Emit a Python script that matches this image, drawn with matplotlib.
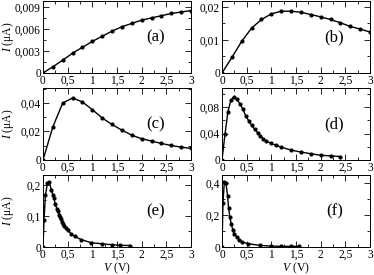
import matplotlib
matplotlib.use("Agg")
import matplotlib.pyplot as plt
from matplotlib.ticker import MultipleLocator, FuncFormatter, AutoMinorLocator

plt.rcParams['font.family'] = ['Liberation Serif', 'DejaVu Serif']
plt.rcParams['mathtext.fontset'] = 'custom'
plt.rcParams['mathtext.it'] = 'Liberation Serif:italic'
plt.rcParams['mathtext.rm'] = 'Liberation Serif'

# Panel data
xa = [0, 0.2, 0.4, 0.6, 0.8, 1.0, 1.2, 1.4, 1.6, 1.8, 2.0, 2.2, 2.4, 2.6, 2.8, 3.0]
ya = [0, 0.00085, 0.00175, 0.0027, 0.0035, 0.0043, 0.0050, 0.0057, 0.0063, 0.00675,
      0.0072, 0.0075, 0.0078, 0.0081, 0.0083, 0.0085]

xb = [0, 0.2, 0.4, 0.6, 0.8, 1.0, 1.2, 1.4, 1.6, 1.8, 2.0, 2.2, 2.4, 2.6, 2.8, 3.0]
yb = [0, 0.0047, 0.0096, 0.0136, 0.0162, 0.0179, 0.0187, 0.0187, 0.0184, 0.0177,
      0.0170, 0.0162, 0.0152, 0.0141, 0.0133, 0.0124]

xc = [0, 0.2, 0.4, 0.6, 0.8, 1.0, 1.2, 1.4, 1.6, 1.8, 2.0, 2.2, 2.4, 2.6, 2.8, 3.0]
yc = [0, 0.0233, 0.0400, 0.0435, 0.0407, 0.0353, 0.0295, 0.0249, 0.0209, 0.0174,
      0.0149, 0.0133, 0.0116, 0.0102, 0.0090, 0.0082]

xd = [0, 0.06, 0.12, 0.18, 0.24, 0.30, 0.36, 0.42, 0.48, 0.54, 0.60, 0.66, 0.72,
      0.78, 0.84, 0.90, 1.0, 1.1, 1.2, 1.4, 1.6, 1.8, 2.0, 2.2, 2.4]
yd = [0, 0.0387, 0.0730, 0.0905, 0.0955, 0.0920, 0.0855, 0.0775, 0.0670, 0.0595,
      0.0525, 0.0465, 0.0415, 0.0365, 0.0320, 0.0285, 0.0250, 0.0220, 0.0195, 0.0150,
      0.0120, 0.0095, 0.0072, 0.0062, 0.0052]

xe = [0, 0.02, 0.05, 0.09, 0.13, 0.17, 0.20, 0.22, 0.25, 0.28, 0.30, 0.33, 0.35,
      0.37, 0.39, 0.41, 0.43, 0.46, 0.50, 0.57, 0.65, 0.77, 0.98, 1.19, 1.39, 1.57, 1.77]
ye = [0, 0.087, 0.168, 0.205, 0.208, 0.184, 0.168, 0.158, 0.137, 0.124, 0.116, 0.104,
      0.097, 0.090, 0.081, 0.075, 0.068, 0.062, 0.055, 0.042, 0.034, 0.024, 0.0137,
      0.0105, 0.0074, 0.0053, 0.0048]

xf = [0, 0.02, 0.047, 0.08, 0.113, 0.133, 0.16, 0.187, 0.22, 0.25, 0.30, 0.35,
      0.41, 0.53, 0.77, 0.99, 1.19, 1.39, 1.57]
yf = [0, 0.277, 0.406, 0.400, 0.318, 0.246, 0.185, 0.144, 0.107, 0.082, 0.062,
      0.045, 0.031, 0.0205, 0.010, 0.006, 0.004, 0.004, 0.004]

labels = ['(a)', '(b)', '(c)', '(d)', '(e)', '(f)']
xs = [xa, xb, xc, xd, xe, xf]
ys = [ya, yb, yc, yd, ye, yf]
ylims = [0.0098, 0.0218, 0.0505, 0.109, 0.232, 0.45]
ymajor = [0.003, 0.01, 0.02, 0.04, 0.1, 0.2]

W, H = 374, 275
fig = plt.figure(figsize=(W / 100, H / 100), dpi=100)

col_left = [43, 222]
col_w = 148
row_top = [1, 88, 175]
row_h = 72

def fmt(v, pos):
    if abs(v) < 1e-12:
        return '0'
    s = '%g' % round(v, 6)
    return s.replace('.', ',')

for i in range(6):
    r, c = divmod(i, 2)
    left = col_left[c] / W
    bottom = 1 - (row_top[r] + row_h) / H
    ax = fig.add_axes([left, bottom, col_w / W, row_h / H])
    ax.plot(xs[i], ys[i], color='black', lw=1.0, marker='o', ms=2.0)
    ax.set_xlim(0, 3)
    ax.set_ylim(0, ylims[i])
    ax.xaxis.set_major_locator(MultipleLocator(0.5))
    ax.xaxis.set_minor_locator(AutoMinorLocator(2))
    ax.yaxis.set_major_locator(MultipleLocator(ymajor[i]))
    ax.yaxis.set_minor_locator(AutoMinorLocator(2))
    ax.xaxis.set_major_formatter(FuncFormatter(fmt))
    ax.yaxis.set_major_formatter(FuncFormatter(fmt))
    ax.tick_params(which='both', direction='in', top=True, right=True,
                   labelsize=8.3, pad=1.5, width=0.6)
    ax.tick_params(which='major', length=4)
    ax.tick_params(which='minor', length=2)
    for sp in ax.spines.values():
        sp.set_linewidth(0.7)
    ax.text(0.76, 0.5, labels[i], transform=ax.transAxes, fontsize=12,
            ha='center', va='center')
    if c == 0:
        ax.set_ylabel(r'$I$ ($\mathrm{\mu}$A)', fontsize=8.3)
        ax.yaxis.set_label_coords(-27 / col_w, 0.5)
    if r == 2:
        ax.set_xlabel(r'$V$ (V)', fontsize=8.5, labelpad=0)

fig.savefig('out.png', dpi=100)
